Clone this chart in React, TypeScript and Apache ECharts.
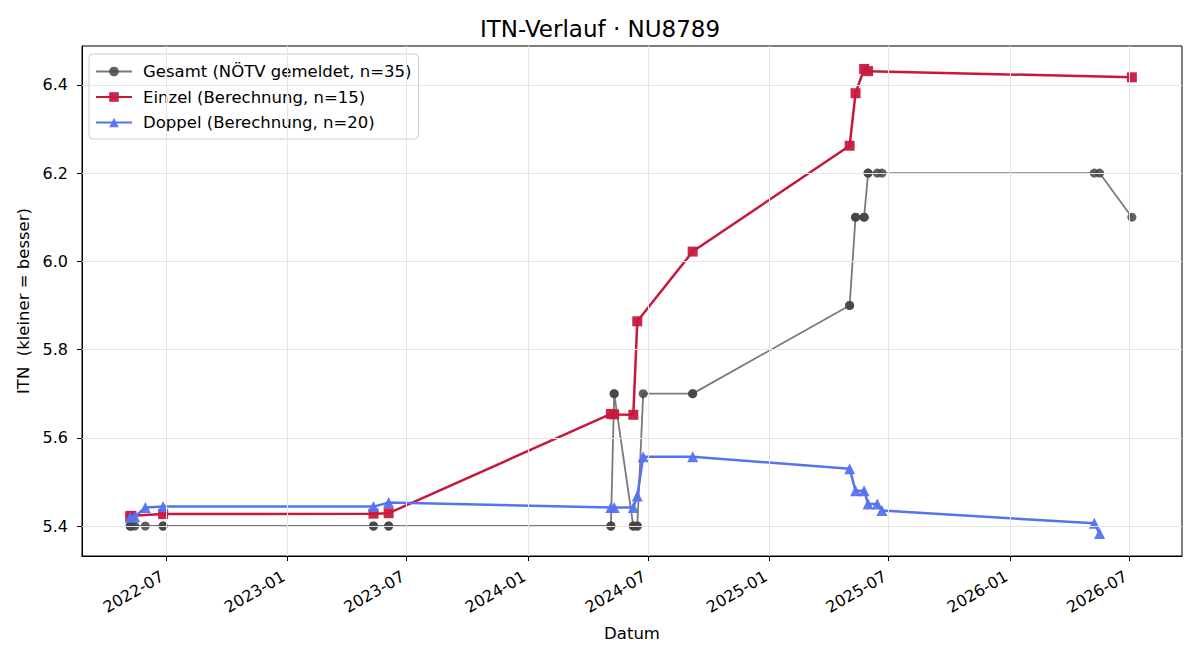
import { useEffect, useRef } from 'react';
import * as echarts from 'echarts';

// Overall rating as reported by the federation (one entry per match)
const gesamtDates = [
  '2022-05-08', '2022-05-08', '2022-05-10', '2022-05-15', '2022-05-31', '2022-06-27', '2022-06-27',
  '2023-05-12', '2023-05-12', '2023-06-04', '2023-06-04',
  '2024-05-06', '2024-05-06', '2024-05-11', '2024-05-11', '2024-06-09', '2024-06-09',
  '2024-06-15', '2024-06-15', '2024-06-24', '2024-09-07', '2024-09-07',
  '2025-05-03', '2025-05-03', '2025-05-12', '2025-05-12', '2025-05-25', '2025-05-25',
  '2025-05-31', '2025-05-31', '2025-06-14', '2025-06-21',
  '2026-05-09', '2026-05-17', '2026-07-05',
];
const gesamtValues = [
  5.4, 5.4, 5.4, 5.4, 5.4, 5.4, 5.4,
  5.4, 5.4, 5.4, 5.4,
  5.4, 5.4, 5.7, 5.7, 5.4, 5.4,
  5.4, 5.4, 5.7, 5.7, 5.7,
  5.9, 5.9, 6.1, 6.1, 6.1, 6.1,
  6.2, 6.2, 6.2, 6.2,
  6.2, 6.2, 6.1,
];

// Singles rating (calculated)
const einzelDates = [
  '2022-05-08', '2022-05-10', '2022-06-27', '2023-05-12', '2023-06-04',
  '2024-05-06', '2024-05-11', '2024-06-09', '2024-06-15', '2024-09-07',
  '2025-05-03', '2025-05-12', '2025-05-25', '2025-05-31', '2026-07-05',
];
const einzelValues = [
  5.422, 5.423, 5.427, 5.428, 5.429,
  5.654, 5.653, 5.652, 5.864, 6.022,
  6.262, 6.381, 6.436, 6.431, 6.417,
];

// Doubles rating (calculated)
const doppelDates = [
  '2022-05-08', '2022-05-15', '2022-05-31', '2022-06-27', '2023-05-12', '2023-06-04',
  '2024-05-06', '2024-05-11', '2024-06-09', '2024-06-15', '2024-06-24', '2024-09-07',
  '2025-05-03', '2025-05-12', '2025-05-25', '2025-05-31', '2025-06-14', '2025-06-21',
  '2026-05-09', '2026-05-17',
];
const doppelValues = [
  5.420, 5.421, 5.442, 5.444, 5.444, 5.453,
  5.442, 5.442, 5.442, 5.468, 5.557, 5.557,
  5.530, 5.480, 5.480, 5.450, 5.450, 5.435,
  5.406, 5.383,
];

const xTicks = [
  '2022-07-01', '2023-01-01', '2023-07-01', '2024-01-01', '2024-07-01',
  '2025-01-01', '2025-07-01', '2026-01-01', '2026-07-01',
];
const yTicks = [5.4, 5.6, 5.8, 6.0, 6.2, 6.4];

const xMin = '2022-02-24';
const xMax = '2026-09-19';
const yMin = 5.332;
const yMax = 6.488;

const FONT = 'DejaVu Sans';
const GRID_COLOR = '#e4e4e4';

// dates are handled as UTC timestamps on a numeric axis
const ts = (s: string) => Date.parse(s + 'T00:00:00Z');
const pairs = (d: string[], v: number[]) => d.map((x, i) => [ts(x), v[i]]);
const fmtMonth = (v: number) => {
  const d = new Date(v);
  return d.getUTCFullYear() + '-' + String(d.getUTCMonth() + 1).padStart(2, '0');
};

const noSplit = {
  splitLine: { show: false, lineStyle: { color: 'rgba(0,0,0,0)', width: 0 } },
  minorSplitLine: { show: false },
  minorTick: { show: false },
  splitArea: { show: false },
};

export default function App() {
  const ref = useRef<HTMLDivElement>(null);

  useEffect(() => {
    const chart = echarts.init(ref.current!, null, { renderer: 'svg' });
    const xTickTimes = xTicks.map(ts);

    chart.setOption({
      animation: false,
      backgroundColor: '#ffffff',
      textStyle: { fontFamily: FONT },
      title: {
        text: 'ITN-Verlauf · NU8789',
        left: 'center',
        top: 12,
        textStyle: { fontFamily: FONT, fontSize: 23, fontWeight: 'normal', color: '#000' },
      },
      grid: {
        left: 82,
        right: 18,
        top: 46,
        bottom: 104,
        show: true,
        borderColor: '#000',
        borderWidth: 1,
        backgroundColor: 'transparent',
      },
      legend: {
        orient: 'vertical',
        left: 89,
        top: 54,
        padding: [9, 7, 8, 6],
        itemGap: 8.5,
        itemWidth: 36,
        itemHeight: 12,
        backgroundColor: 'rgba(255,255,255,0.85)',
        borderColor: '#cccccc',
        borderWidth: 1,
        borderRadius: 4,
        textStyle: { fontFamily: FONT, fontSize: 16.5, color: '#000', padding: [0, 0, 0, 6] },
        data: [
          'Gesamt (NÖTV gemeldet, n=35)',
          'Einzel (Berechnung, n=15)',
          'Doppel (Berechnung, n=20)',
        ],
      },
      xAxis: {
        type: 'value',
        min: ts(xMin),
        max: ts(xMax),
        name: 'Datum',
        nameLocation: 'middle',
        nameGap: 69,
        nameTextStyle: { fontFamily: FONT, fontSize: 16.5, color: '#000' },
        axisLine: { show: true, onZero: false, lineStyle: { color: '#000', width: 1 } },
        axisTick: {
          show: true,
          inside: false,
          length: 5,
          customValues: xTickTimes,
          lineStyle: { color: '#000' },
        },
        axisLabel: {
          customValues: xTickTimes,
          rotate: 30,
          fontFamily: FONT,
          fontSize: 16,
          color: '#000',
          margin: 17,
          padding: [0, 4, 0, 0],
          formatter: (v: number) => fmtMonth(v),
        },
        ...noSplit,
      },
      yAxis: {
        type: 'value',
        min: yMin,
        max: yMax,
        name: 'ITN  (kleiner = besser)',
        nameLocation: 'middle',
        nameGap: 47,
        nameTextStyle: { fontFamily: FONT, fontSize: 16.5, color: '#000' },
        axisLine: { show: true, lineStyle: { color: '#000', width: 1 } },
        axisTick: {
          show: true,
          inside: false,
          length: 5,
          customValues: yTicks,
          lineStyle: { color: '#000' },
        },
        axisLabel: {
          customValues: yTicks,
          fontFamily: FONT,
          fontSize: 16,
          color: '#000',
          margin: 14,
          formatter: (v: number) => v.toFixed(1),
        },
        ...noSplit,
      },
      series: [
        {
          // grid lines at the labelled ticks, kept behind the data
          name: 'grid',
          type: 'line',
          data: [],
          silent: true,
          z: 1,
          markLine: {
            silent: true,
            symbol: ['none', 'none'],
            label: { show: false },
            lineStyle: { color: GRID_COLOR, width: 1, type: 'solid' },
            data: [
              ...xTickTimes.map((t) => ({ xAxis: t })),
              ...yTicks.map((v) => ({ yAxis: v })),
            ],
          },
        },
        {
          name: 'Gesamt (NÖTV gemeldet, n=35)',
          type: 'line',
          data: pairs(gesamtDates, gesamtValues),
          symbol: 'circle',
          symbolSize: 9,
          showAllSymbol: true,
          lineStyle: { color: '#7a7a7a', width: 1.8 },
          itemStyle: { color: '#454545', opacity: 0.85 },
          z: 2,
        },
        {
          name: 'Einzel (Berechnung, n=15)',
          type: 'line',
          data: pairs(einzelDates, einzelValues),
          symbol: 'rect',
          symbolSize: 10,
          showAllSymbol: true,
          lineStyle: { color: '#c8193d', width: 2.5 },
          itemStyle: { color: '#c8193d', opacity: 0.95 },
          z: 3,
        },
        {
          name: 'Doppel (Berechnung, n=20)',
          type: 'line',
          data: pairs(doppelDates, doppelValues),
          symbol: 'triangle',
          symbolSize: 11,
          showAllSymbol: true,
          lineStyle: { color: '#5573ef', width: 2.5 },
          itemStyle: { color: '#5573ef', opacity: 0.95 },
          z: 4,
        },
      ],
    });

    return () => chart.dispose();
  }, []);

  return (
    <div
      ref={ref}
      style={{ position: 'fixed', left: 0, top: 0, width: 1200, height: 660 }}
    />
  );
}
